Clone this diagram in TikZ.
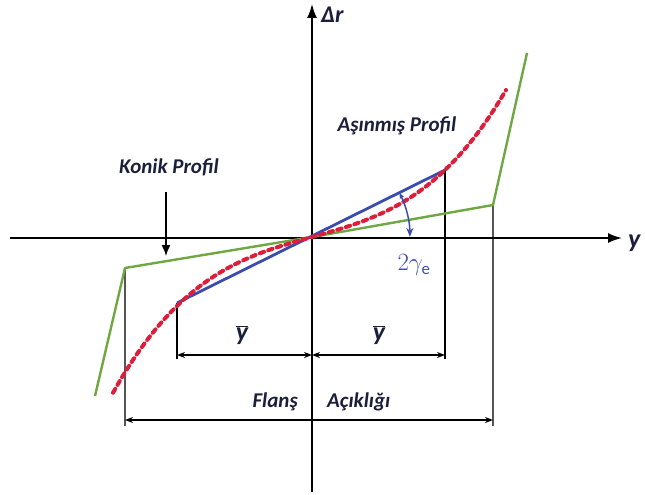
\documentclass[tikz,border=0pt]{standalone}
\usepackage{fontspec}
\setmainfont{Carlito}
\setsansfont{Carlito}
\usetikzlibrary{arrows.meta}
\definecolor{txt}{HTML}{1B1F3A}
\definecolor{grn}{HTML}{6FA843}
\definecolor{blu}{HTML}{3A4DAE}
\definecolor{rd}{HTML}{DC1E3A}
\definecolor{dimc}{HTML}{555555}
\tikzset{
  lbl/.style={font=\fontsize{21}{24}\selectfont\bfseries\itshape, text=txt, inner sep=0pt},
  biglbl/.style={font=\fontsize{26}{28}\selectfont\bfseries\itshape, text=txt, inner sep=0pt},
  axis/.style={line width=1.8pt, -{Latex[length=14pt,width=10pt]}},
  dimline/.style={line width=1.6pt, dimc},
  dimarrow/.style={line width=1.3pt, {Stealth[length=8pt,width=6pt]}-{Stealth[length=8pt,width=6pt]}},
  greenprof/.style={grn, line width=2.4pt, line join=round},
  blueprof/.style={blu, line width=2.8pt},
  redprof/.style={rd, line width=4pt, dash pattern=on 4.5pt off 4.5pt, line cap=round},
}
\begin{document}
\begin{tikzpicture}[x=1pt,y=-1pt]
\useasboundingbox (0,0) rectangle (645,495);
% coordinates
\coordinate (O) at (312,237);
\coordinate (xl) at (10,238);
\coordinate (xr) at (622,238);
\coordinate (yb) at (312,492);
\coordinate (yt) at (312,4);
\coordinate (g1) at (95,396);
\coordinate (g2) at (125,268);
\coordinate (g3) at (493,205);
\coordinate (g4) at (527,53);
\coordinate (b1) at (177,303);
\coordinate (b2) at (445,170);
% vertical guide lines
\coordinate (v1t) at (125,268); \coordinate (v1b) at (125,426);
\coordinate (v2t) at (493,205); \coordinate (v2b) at (493,426);
\coordinate (v3t) at (177,303); \coordinate (v3b) at (177,359);
\coordinate (v4t) at (445,170); \coordinate (v4b) at (445,359);
\draw[dimline] (v1t) -- (v1b);
\draw[dimline] (v2t) -- (v2b);
\draw[black, line width=1.4pt] (v3t) -- (v3b);
\draw[black, line width=1.4pt] (v4t) -- (v4b);
% axes
\draw[axis] (xl) -- (xr);
\draw[axis] (yb) -- (yt);
\node[biglbl, anchor=west] (ylab) at (628,243) {y};
\node[lbl, anchor=west, font=\fontsize{24}{26}\selectfont\bfseries\itshape] (drlab) at (321,15) {Δr};
% profiles
\draw[greenprof] (g1) -- (g2) -- (O) -- (g3) -- (g4);
\draw[blueprof] (b1) -- (b2);
\draw[redprof] plot[domain=-199:194, samples=80, smooth] ({312+\x},{237-(0.2786*\x+12.73*(\x/100)^3)});
% angle
\coordinate (a1) at (399.5,193);
\draw[blu, line width=1.5pt, {Stealth[length=6pt,width=5pt]}-{Stealth[length=9pt,width=7pt]}] (a1) arc[start angle=26.6, end angle=0, x radius=98, y radius=-98];
\node[font=\fontsize{24}{26}\selectfont, text=blu, inner sep=0pt] (gam) at (414,265) {$2\gamma_{\mathsf{e}}$};
% labels
\node[lbl] (asin) at (397,126) {Aşınmış Profil};
\node[lbl] (konik) at (169,167) {Konik Profil};
\coordinate (ka) at (166,192);
\coordinate (kb) at (166,256);
\draw[line width=1.5pt, -{Latex[length=11pt,width=9pt]}] (ka) -- (kb);
% dimension arrows
\coordinate (d1) at (177,355); \coordinate (d2) at (312,355); \coordinate (d3) at (445,355);
\draw[dimarrow] (d1) -- (d2);
\draw[dimarrow] (d2) -- (d3);
\node[biglbl] (yb1) at (242,335) {$\overline{\hbox{y}}$};
\node[biglbl] (yb2) at (379,335) {$\overline{\hbox{y}}$};
\coordinate (f1) at (125,420); \coordinate (f2) at (493,420);
\draw[dimarrow] (f1) -- (f2);
\node[lbl, anchor=east] (fl) at (298,402) {Flanş};
\node[lbl, anchor=west] (ac) at (327,402) {Açıklığı};
\end{tikzpicture}
\end{document}
